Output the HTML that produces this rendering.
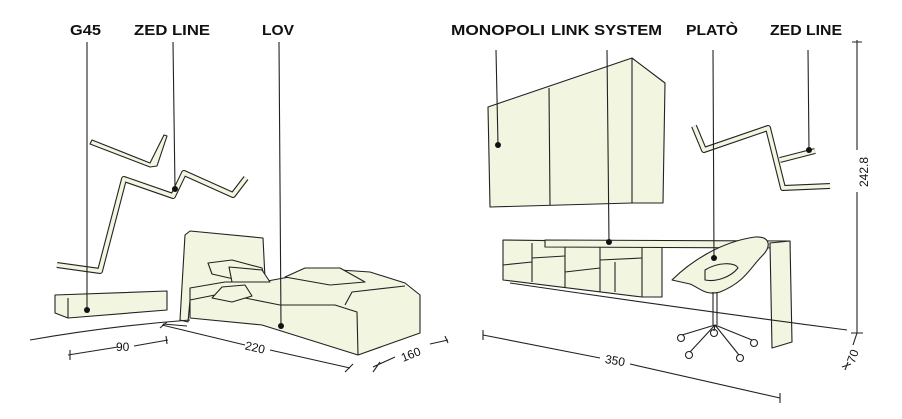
<!DOCTYPE html>
<html><head><meta charset="utf-8"><style>
html,body{margin:0;padding:0;background:#fff;}
svg{display:block}
.l{font-family:"Liberation Sans Narrow","Liberation Sans",sans-serif;font-size:15px;font-weight:bold;fill:#111;}
.d{font-family:"Liberation Sans",sans-serif;font-size:12px;fill:#111;}
</style></head><body>
<svg width="902" height="419" viewBox="0 0 902 419" xmlns="http://www.w3.org/2000/svg">
<g class="l">
<text x="70" y="35" textLength="31" lengthAdjust="spacingAndGlyphs">G45</text>
<text x="134" y="35" textLength="76" lengthAdjust="spacingAndGlyphs">ZED LINE</text>
<text x="262" y="35" textLength="32" lengthAdjust="spacingAndGlyphs">LOV</text>
<text x="451" y="35" textLength="94" lengthAdjust="spacingAndGlyphs">MONOPOLI</text>
<text x="551" y="35" textLength="111" lengthAdjust="spacingAndGlyphs">LINK SYSTEM</text>
<text x="686" y="35" textLength="52" lengthAdjust="spacingAndGlyphs">PLATÒ</text>
<text x="770" y="35" textLength="72" lengthAdjust="spacingAndGlyphs">ZED LINE</text>
</g>
<g fill="#f2f5df" stroke="#222" stroke-width="1.1" stroke-linejoin="round">
<polygon points="92,140 150,163 164,135 167,136 157,166 150,167 90,144"/>
<polyline points="57,265 100,271 124,179 173,196 184,173 233,195 246,178" fill="none" stroke="#222" stroke-width="6"/>
<polyline points="57,265 100,271 124,179 173,196 184,173 233,195 246,178" fill="none" stroke="#f2f5df" stroke-width="3.8"/>
<polygon points="55,295 167,291 167,310 68,318 55,313"/>
<line x1="68" y1="298" x2="68" y2="318"/>
<!-- bed headboard -->
<polygon points="180,320 185,235 190,231 263,238 265,278 190,300 188,322"/>
<!-- bed base -->
<polygon points="190,288 225,282 262,282 300,275 340,270 370,272 405,283 420,295 420,333 358,355 262,325 190,318"/>
<path d="M190,300 L215,295 L245,298 L280,305 L335,305 L357,312 L358,355" fill="none"/>
<path d="M345,305 L352,292 L405,286" fill="none"/>
<polygon points="208,263 232,260 262,268 266,282 238,280 212,274"/>
<polygon points="229,267 262,270 270,282 232,282"/>
<polygon points="285,277 305,268 340,268 365,282 330,285"/>
<polygon points="212,298 222,287 245,285 252,296 232,302"/>
<!-- cabinet -->
<polygon points="488,107 632,58 665,83 663,203 632,203 490,207"/>
<line x1="632" y1="58" x2="632" y2="203"/>
<line x1="549" y1="88" x2="550" y2="205"/>
<!-- shelving -->
<polygon points="503,240 662,242 662,297 642,297 503,280"/>
<line x1="532" y1="243" x2="532" y2="282"/>
<line x1="565" y1="244" x2="565" y2="287"/>
<line x1="600" y1="245" x2="600" y2="292"/>
<line x1="642" y1="245" x2="642" y2="297"/>
<line x1="503" y1="265" x2="532" y2="262"/>
<line x1="532" y1="258" x2="565" y2="256"/>
<line x1="565" y1="272" x2="600" y2="268"/>
<line x1="600" y1="260" x2="642" y2="258"/>
<line x1="615" y1="262" x2="615" y2="292"/>
<!-- desk -->
<polygon points="545,240 790,241 790,248 545,247"/>
<polygon points="770,243 790,241 792,342 772,348"/>
<!-- chair -->
<path d="M672,280 C690,262 720,242 755,237 C770,236 772,246 762,256 C750,268 745,282 720,292 C705,296 700,288 690,284 Z"/>
<path d="M705,270 C718,262 735,262 738,268 C730,278 715,282 705,280 Z"/>
<!-- right zed -->
<polyline points="694,126 704,150 768,128 783,188 830,186" fill="none" stroke="#222" stroke-width="6"/>
<polyline points="694,126 704,150 768,128 783,188 830,186" fill="none" stroke="#f2f5df" stroke-width="3.8"/>
<polyline points="780,160 815,151" fill="none" stroke="#222" stroke-width="6"/>
<polyline points="780,160 815,151" fill="none" stroke="#f2f5df" stroke-width="3.8"/>
</g>
<g fill="none" stroke="#222" stroke-width="1.1">
<line x1="713" y1="292" x2="713" y2="325"/><line x1="717" y1="292" x2="717" y2="325"/>
<path d="M715,325 L682,335 M715,325 L690,352 M715,325 L739,355 M715,325 L752,340 M715,325 L714,331"/>
<circle cx="681" cy="338" r="3.5"/><circle cx="689" cy="355" r="3.5"/><circle cx="740" cy="358" r="3.5"/><circle cx="754" cy="343" r="3.5"/><circle cx="714" cy="333" r="3.5"/>
<path d="M30,340 Q110,326 190,320"/>
<path d="M163,324 L187,326"/>
<path d="M510,283 Q680,308 847,330"/>
<line x1="87" y1="42" x2="87" y2="310"/>
<line x1="173" y1="42" x2="175" y2="189"/>
<line x1="279" y1="42" x2="281" y2="326"/>
<line x1="496" y1="50" x2="498" y2="145"/>
<line x1="607" y1="50" x2="609" y2="242"/>
<line x1="713" y1="50" x2="714" y2="258"/>
<line x1="808" y1="50" x2="809" y2="150"/>
<path d="M68,355 L118,347 M134,346 L168,340 M70,350 L70,360 M166,336 L167,344"/>
<path d="M162,325 L245,345 M270,350 L350,368 M160,328 L167,322 M345,372 L353,364"/>
<path d="M373,367 L395,357 M430,344 L448,340 M373,372 L380,362 M445,336 L448,343"/>
<path d="M483,335 L600,358 M630,364 L780,398 M483,330 L483,340 M780,393 L780,403"/>
<path d="M857,40 L857,150 M857,192 L857,333 M852,42 L862,42 M851,333 L863,333 M857,333 L853,345 M848,362 L845,370 M842,367 L851,364"/>
</g>
<g fill="#111">
<circle cx="87" cy="310" r="3"/><circle cx="175" cy="189" r="3"/><circle cx="281" cy="326" r="3"/>
<circle cx="498" cy="145" r="3"/><circle cx="609" cy="242" r="3"/><circle cx="714" cy="258" r="3"/><circle cx="809" cy="150" r="3"/>
</g>
<g class="d">
<text x="116" y="351">90</text>
<text x="245" y="352" transform="rotate(13 257 348)">220</text>
<text x="400" y="358" transform="rotate(-22 412 352)">160</text>
<text x="605" y="365" transform="rotate(10 617 361)">350</text>
<text x="845" y="176" transform="rotate(-90 862 170)">242.8</text>
<text x="846" y="360" transform="rotate(-70 853 356)">70</text>
</g>
</svg>
</body></html>
